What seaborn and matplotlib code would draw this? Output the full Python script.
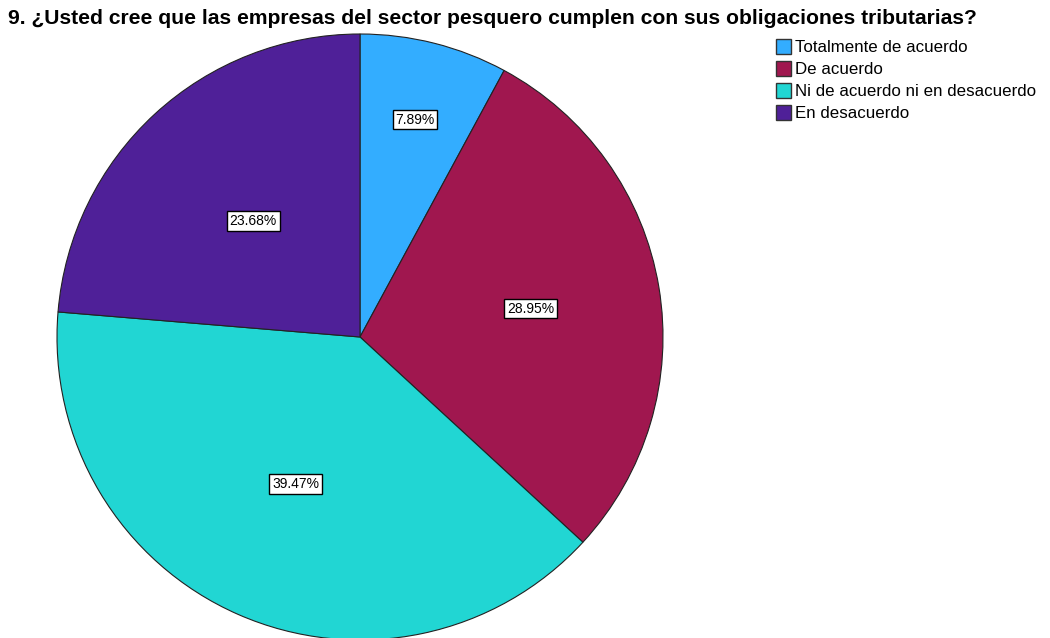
import numpy as np
import seaborn as sns
import matplotlib.pyplot as plt
from matplotlib.patches import Patch

# Respuestas a la pregunta 9
categorias = ["Totalmente de acuerdo", "De acuerdo",
              "Ni de acuerdo ni en desacuerdo", "En desacuerdo"]
porcentajes = [7.89, 28.95, 39.47, 23.68]
colores = ["#33adff", "#a0174f", "#21d6d3", "#4f2098"]
titulo = "9. ¿Usted cree que las empresas del sector pesquero cumplen con sus obligaciones tributarias?"

sns.set_theme(style="white")
plt.rcParams['font.family'] = ['Liberation Sans', 'DejaVu Sans']

fig = plt.figure(figsize=(10.5, 6.38), dpi=100)
ax = fig.add_axes([57 / 1050, -2 / 638, 606 / 1050, 606 / 638])

wedges, texts, autotexts = ax.pie(
    porcentajes, colors=colores, startangle=90, counterclock=False,
    autopct="%.2f%%", pctdistance=0.55,
    wedgeprops=dict(edgecolor="#222222", linewidth=0.8),
    textprops=dict(fontsize=10, color="black"))

# la etiqueta del sector pequeño va más afuera, como en el original
dist = [0.74, 0.57, 0.53, 0.52]
for w, t, d in zip(wedges, autotexts, dist):
    ang = np.deg2rad((w.theta1 + w.theta2) / 2)
    t.set_position((d * np.cos(ang), d * np.sin(ang)))
    t.set_bbox(dict(facecolor="white", edgecolor="black", linewidth=1, pad=2))

ax.set_xlim(-1, 1)
ax.set_ylim(-1, 1)
ax.set_aspect("equal")
ax.axis("off")

fig.text(8 / 1050, 1 - 18 / 638, titulo, fontsize=15.2, fontweight="bold",
         va="center", ha="left", color="black")

handles = [Patch(facecolor=c, edgecolor="#333333", linewidth=1) for c in colores]
leg = fig.legend(handles, categorias, loc="upper left", bbox_to_anchor=(776 / 1050, 1 - 39 / 638),
                 frameon=False, fontsize=12.2, handlelength=0.9, handleheight=1.0,
                 handletextpad=0.2, labelspacing=0.33, borderpad=0, borderaxespad=0)
for t in leg.get_texts():
    t.set_color("black")

fig.savefig("out.png", dpi=100)
